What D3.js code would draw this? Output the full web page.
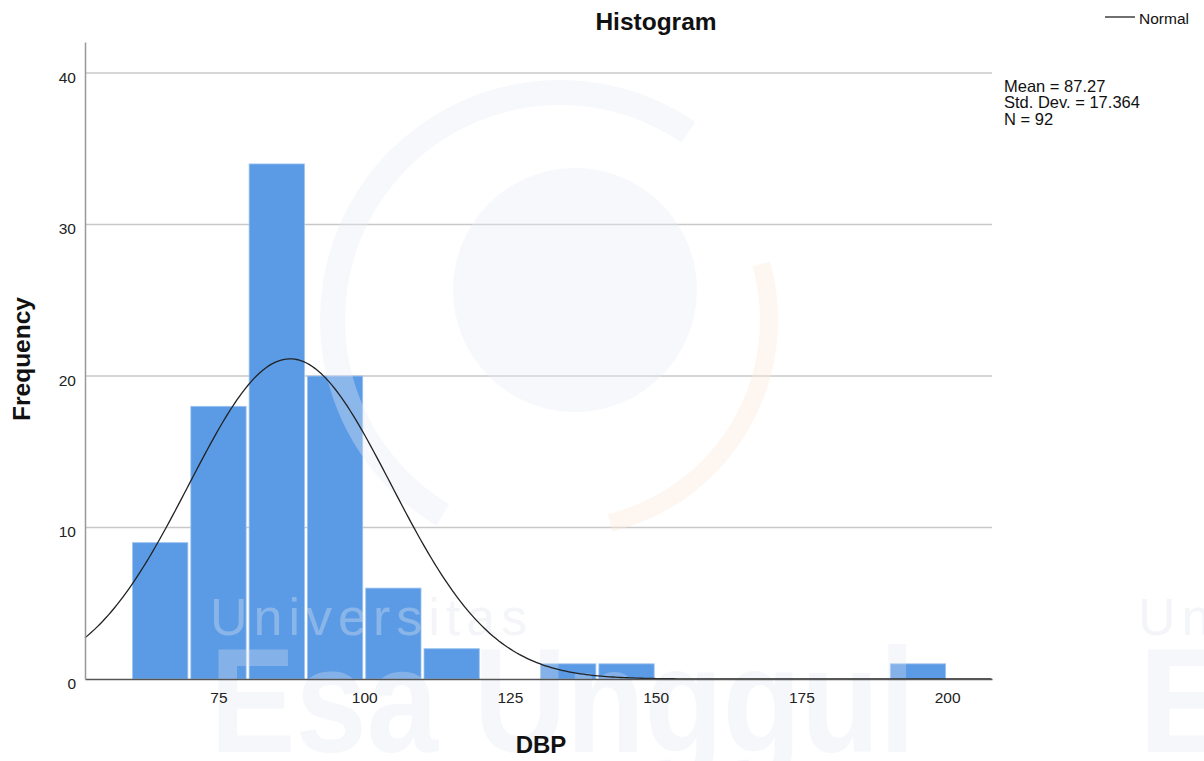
<!DOCTYPE html>
<html>
<head>
<meta charset="utf-8">
<script src="https://cdn.jsdelivr.net/npm/d3@7"></script>
<style>
  body { margin: 0; background: #fff; }
  text { font-family: "Liberation Sans", Arial, sans-serif; }
</style>
</head>
<body>
<script>
// histogram bins (lower edge) and frequencies, bin width 10
var binStarts = [60, 70, 80, 90, 100, 110, 130, 140, 190];
var counts = [9, 18, 34, 20, 6, 2, 1, 1, 1];
var binWidth = 10;

var xTicks = [75, 100, 125, 150, 175, 200];
var yTicks = [0, 10, 20, 30, 40];

// summary stats shown in the chart
var mean = 87.27, sd = 17.364, n = 92;
var statLines = ["Mean = 87.27", "Std. Dev. = 17.364", "N = 92"];

var W = 1204, H = 761;
var plotLeft = 85, plotRight = 992, plotTop = 42, plotBottom = 679;

var svg = d3.select("body").append("svg")
    .attr("width", W)
    .attr("height", H);

var x = d3.scaleLinear().domain([52.1, 207.7]).range([plotLeft, plotRight]);
var y = d3.scaleLinear().domain([0, 42.05]).range([plotBottom, plotTop]);

// gridlines
svg.append("g")
    .selectAll("line")
    .data(yTicks.filter(function (d) { return d > 0; }))
    .enter().append("line")
    .attr("x1", plotLeft).attr("x2", plotRight)
    .attr("y1", function (d) { return y(d); })
    .attr("y2", function (d) { return y(d); })
    .attr("stroke", "#c8c8c8")
    .attr("stroke-width", 1.5);

// bars
var bars = binStarts.map(function (s, i) { return { start: s, count: counts[i] }; });
svg.append("g")
    .selectAll("rect")
    .data(bars)
    .enter().append("rect")
    .attr("x", function (d) { return x(d.start) + 1.5; })
    .attr("width", function (d) { return x(d.start + binWidth) - x(d.start) - 3; })
    .attr("y", function (d) { return y(d.count); })
    .attr("height", function (d) { return y(0) - y(d.count); })
    .attr("fill", "#5b9be5")
    .attr("stroke", "#9cc2f0")
    .attr("stroke-width", 0.8);

// faint watermark
var wm = svg.append("g").attr("pointer-events", "none");
wm.append("circle").attr("cx", 575).attr("cy", 290).attr("r", 122)
    .attr("fill", "#e8ecf4").attr("opacity", 0.35);
wm.append("path")
    .attr("d", d3.arc().innerRadius(215).outerRadius(240).startAngle(-2.6).endAngle(0.6)())
    .attr("transform", "translate(560,320)")
    .attr("fill", "#e6ebf4").attr("opacity", 0.35);
wm.append("path")
    .attr("d", d3.arc().innerRadius(200).outerRadius(218).startAngle(1.3).endAngle(2.9)())
    .attr("transform", "translate(560,320)")
    .attr("fill", "#fbe9dc").attr("opacity", 0.4);
wm.append("text").attr("x", 210).attr("y", 635)
    .attr("font-size", 52).attr("letter-spacing", 6)
    .attr("fill", "#dfe5ef").attr("opacity", 0.35).text("Universitas");
wm.append("text").attr("x", 210).attr("y", 752)
    .attr("font-size", 148).attr("font-weight", "bold")
    .attr("textLength", 705).attr("lengthAdjust", "spacingAndGlyphs")
    .attr("fill", "#dfe6f1").attr("opacity", 0.3).text("Esa Unggul");
wm.append("text").attr("x", 1138).attr("y", 635)
    .attr("font-size", 52).attr("letter-spacing", 6)
    .attr("fill", "#dfe5ef").attr("opacity", 0.35).text("Un");
wm.append("text").attr("x", 1138).attr("y", 752)
    .attr("font-size", 148).attr("font-weight", "bold")
    .attr("fill", "#dfe6f1").attr("opacity", 0.3).text("E");

// normal curve scaled to frequency
var norm = function (v) {
    return n * binWidth * Math.exp(-0.5 * Math.pow((v - mean) / sd, 2)) / (sd * Math.sqrt(2 * Math.PI));
};
var curvePts = d3.range(x.domain()[0], x.domain()[1], 0.5);
svg.append("path")
    .datum(curvePts)
    .attr("d", d3.line()
        .x(function (d) { return x(d); })
        .y(function (d) { return y(norm(d)); }))
    .attr("fill", "none")
    .attr("stroke", "#222")
    .attr("stroke-width", 1.3);

// axes
var xAxis = d3.axisBottom(x).tickValues(xTicks).tickSize(0).tickPadding(13);
var gx = svg.append("g")
    .attr("transform", "translate(0," + plotBottom + ")")
    .call(xAxis);
gx.select(".domain").attr("stroke", "#555").attr("stroke-width", 1.5);
gx.selectAll("text").attr("font-size", 15.5).attr("fill", "#222")
    .style("font-family", "Liberation Sans, Arial, sans-serif");

var yAxis = d3.axisLeft(y).tickValues(yTicks).tickSize(0).tickPadding(9);
var gy = svg.append("g")
    .attr("transform", "translate(" + plotLeft + ",0)")
    .call(yAxis);
gy.select(".domain").attr("stroke", "#999").attr("stroke-width", 1.5);
gy.selectAll("text").attr("font-size", 15.5).attr("fill", "#222")
    .attr("dy", "0.6em")
    .style("font-family", "Liberation Sans, Arial, sans-serif");

// titles
svg.append("text").attr("x", 656).attr("y", 30)
    .attr("text-anchor", "middle").attr("font-size", 24.5).attr("font-weight", "bold")
    .attr("fill", "#111").text("Histogram");
svg.append("text").attr("x", 541).attr("y", 753)
    .attr("text-anchor", "middle").attr("font-size", 24).attr("font-weight", "bold")
    .attr("fill", "#111").text("DBP");
svg.append("text")
    .attr("transform", "translate(30,359) rotate(-90)")
    .attr("text-anchor", "middle").attr("font-size", 24.5).attr("font-weight", "bold")
    .attr("fill", "#111").text("Frequency");

// legend
svg.append("line").attr("x1", 1105).attr("x2", 1135).attr("y1", 17).attr("y2", 17)
    .attr("stroke", "#222").attr("stroke-width", 1.3);
svg.append("text").attr("x", 1139).attr("y", 24)
    .attr("font-size", 15.5).attr("fill", "#111").text("Normal");

// stats box
svg.append("g").selectAll("text")
    .data(statLines)
    .enter().append("text")
    .attr("x", 1004)
    .attr("y", function (d, i) { return 91.5 + i * 16.5; })
    .attr("font-size", 16.5)
    .attr("fill", "#111")
    .text(function (d) { return d; });
</script>
</body>
</html>
